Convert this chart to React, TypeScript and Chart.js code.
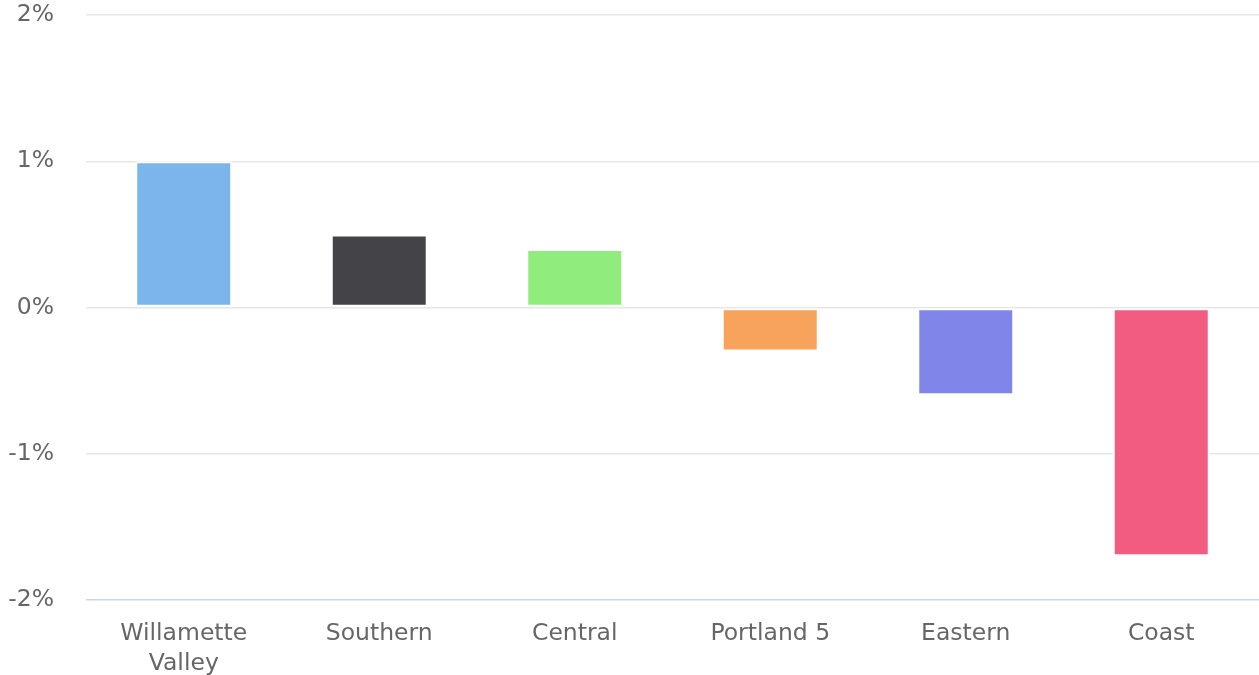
import React, { useEffect, useRef } from "react";
import { Chart, registerables } from "chart.js";

Chart.register(...registerables);

const categories: (string | string[])[] = [
  ["Willamette", "Valley"],
  "Southern",
  "Central",
  "Portland 5",
  "Eastern",
  "Coast",
];
const values: number[] = [1.0, 0.5, 0.4, -0.3, -0.6, -1.7];
const barColors: string[] = ["#7cb5ec", "#434348", "#90ed7d", "#f7a35c", "#8085e9", "#f15c80"];
const yMin = -2;
const yMax = 2;
const yStep = 1;

export default function App() {
  const ref = useRef<HTMLCanvasElement | null>(null);

  useEffect(() => {
    document.body.style.margin = "0";
    if (!ref.current) return;
    const chart = new Chart(ref.current, {
      type: "bar",
      data: {
        labels: categories,
        datasets: [
          {
            data: values,
            backgroundColor: barColors,
            borderColor: "#ffffff",
            borderWidth: 2,
            borderSkipped: false,
            barPercentage: 0.496,
            categoryPercentage: 1,
          },
        ],
      },
      options: {
        animation: false,
        responsive: true,
        maintainAspectRatio: false,
        layout: { padding: { top: 15, right: 0, bottom: 0, left: 0 } },
        plugins: {
          legend: { display: false },
          tooltip: { enabled: false },
        },
        scales: {
          x: {
            grid: { display: false, drawTicks: false },
            border: { display: false },
            ticks: {
              color: "#666666",
              padding: 19,
              font: { family: "DejaVu Sans", size: 23.5, lineHeight: 1.28 },
              maxRotation: 0,
              autoSkip: false,
            },
            afterFit: (scale: any) => {
              scale.height = 75;
            },
          },
          y: {
            min: yMin,
            max: yMax,
            grid: {
              color: (ctx: any) => (ctx.tick && ctx.tick.value === yMin ? "#ccd6eb" : "#e6e6e6"),
              lineWidth: 1.5,
              drawTicks: false,
            },
            border: { display: false },
            ticks: {
              stepSize: yStep,
              color: "#666666",
              padding: 32,
              font: { family: "DejaVu Sans", size: 23.5 },
              callback: (v: any) => `${v}%`,
            },
            afterFit: (scale: any) => {
              scale.width = 86;
              scale.paddingTop = 0;
              scale.paddingBottom = 0;
            },
          },
        },
      },
    });
    return () => chart.destroy();
  }, []);

  return (
    <div style={{ width: 1259, height: 675, position: "relative" }}>
      <canvas ref={ref} />
    </div>
  );
}
